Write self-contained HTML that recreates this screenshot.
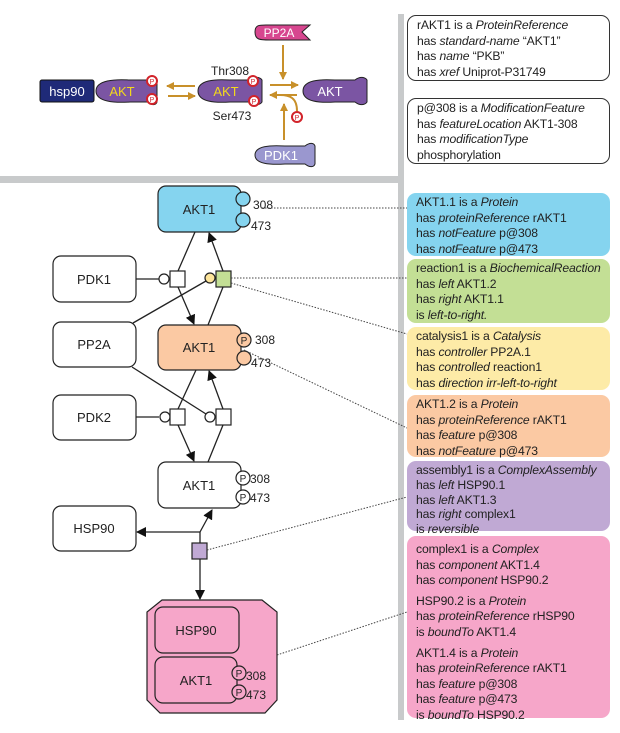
<!DOCTYPE html>
<html><head><meta charset="utf-8"><style>
body{margin:0;background:#fff;width:620px;height:733px;overflow:hidden;position:relative;font-family:"Liberation Sans",sans-serif}
.b{position:absolute;left:407px;width:203px;border-radius:9px;box-sizing:border-box;padding:2px 0 0 9px;font-size:12.2px;line-height:15.6px;color:#222;white-space:nowrap;letter-spacing:-0.15px}
i{font-style:italic}
</style></head><body>
<svg width="620" height="733" style="position:absolute;left:0;top:0" font-family="Liberation Sans, sans-serif">
<defs>
<marker id="a" markerWidth="10" markerHeight="10" refX="9" refY="5" orient="auto" markerUnits="userSpaceOnUse"><path d="M0,0 L10,5 L0,10z" fill="#111"/></marker>
<marker id="g" markerWidth="8" markerHeight="8" refX="7" refY="4" orient="auto" markerUnits="userSpaceOnUse"><path d="M0,0 L8,4 L0,8z" fill="#c8902a"/></marker>
</defs>
<rect x="0" y="176" width="400" height="7" fill="#c8cacb"/>
<rect x="398" y="14" width="6" height="706" fill="#c8cacb"/>
<!-- top illustration -->
<rect x="40" y="80" width="54" height="22" rx="2" fill="#1f2a78" stroke="#111"/>
<text x="67" y="96" fill="#fff" font-size="13" text-anchor="middle">hsp90</text>
<path d="M96,91 C96,80 115,79 130,80 L148,80 C152,76 156,77 157,80 L157,102 C156,105 152,106 148,102 L130,102 C115,103 96,102 96,91z" fill="#7b55a3" stroke="#222"/>
<text x="122" y="96" fill="#f3d81c" font-size="13" text-anchor="middle">AKT</text>
<path d="M198,91 C198,80 215,79 230,80 L250,80 C255,76 260,77 262,80 L262,102 C260,105 255,106 250,102 L230,102 C215,103 198,102 198,91z" fill="#7b55a3" stroke="#222"/>
<text x="226" y="96" fill="#f3d81c" font-size="13" text-anchor="middle">AKT</text>
<text x="230" y="75" font-size="12" fill="#222" text-anchor="middle">Thr308</text>
<text x="232" y="120" font-size="12" fill="#222" text-anchor="middle">Ser473</text>
<path d="M303,91 C303,80 320,79 335,80 L355,80 C360,76 365,77 367,80 L367,102 C365,105 360,106 355,102 L335,102 C320,103 303,102 303,91z" fill="#7b55a3" stroke="#222"/>
<text x="330" y="96" fill="#fff" font-size="13" text-anchor="middle">AKT</text>
<g fill="#fff" stroke="#d2232a" stroke-width="2"><circle cx="152" cy="81" r="5"/><circle cx="152" cy="99" r="5"/><circle cx="253" cy="81" r="5"/><circle cx="254" cy="101" r="5"/><circle cx="297" cy="117" r="5"/></g>
<g font-size="7" fill="#d2232a" text-anchor="middle"><text x="152" y="84">P</text><text x="152" y="102">P</text><text x="253" y="84">P</text><text x="254" y="104">P</text><text x="297" y="120">P</text></g>
<path d="M255,32 C255,24 260,25 270,25 L310,25 L302,32 L310,40 L270,40 C260,40 255,40 255,32z" fill="#d7468f" stroke="#222"/>
<text x="279" y="37" fill="#fff" font-size="12" text-anchor="middle">PP2A</text>
<path d="M255,155 C255,146 270,145 285,146 L305,146 C310,142 314,143 315,146 L315,164 C314,167 310,168 305,164 L285,164 C270,165 255,164 255,155z" fill="#9a97cf" stroke="#222"/>
<text x="281" y="160" fill="#fff" font-size="13" text-anchor="middle">PDK1</text>
<g stroke="#c8902a" stroke-width="2" fill="none">
<line x1="195" y1="86" x2="167" y2="86" marker-end="url(#g)"/>
<line x1="168" y1="96" x2="195" y2="96" marker-end="url(#g)"/>
<line x1="270" y1="85" x2="298" y2="85" marker-end="url(#g)"/>
<line x1="297" y1="95" x2="270" y2="95" marker-end="url(#g)"/>
<line x1="283" y1="45" x2="283" y2="79" marker-end="url(#g)"/>
<line x1="284" y1="140" x2="284" y2="104" marker-end="url(#g)"/>
<path d="M297,111 C297,98 290,95 280,95"/>
</g>
<!-- SBGN diagram -->
<g stroke="#222" stroke-width="1.3" fill="none">
<line x1="195" y1="232" x2="178" y2="271"/>
<line x1="178" y1="287" x2="194" y2="324" marker-end="url(#a)"/>
<line x1="208" y1="325" x2="223" y2="287"/>
<line x1="223" y1="271" x2="209" y2="233" marker-end="url(#a)"/>
<line x1="136" y1="279" x2="159" y2="279"/>
<line x1="133" y1="323" x2="206" y2="281"/>
<line x1="196" y1="370" x2="178" y2="409"/>
<line x1="178" y1="425" x2="194" y2="461" marker-end="url(#a)"/>
<line x1="208" y1="462" x2="223" y2="425"/>
<line x1="223" y1="409" x2="209" y2="371" marker-end="url(#a)"/>
<line x1="136" y1="417" x2="159" y2="417"/>
<line x1="132" y1="367" x2="206" y2="414"/>
<line x1="200" y1="543" x2="200" y2="532"/>
<line x1="200" y1="532" x2="137" y2="532" marker-end="url(#a)"/>
<line x1="200" y1="532" x2="212" y2="510" marker-end="url(#a)"/>
<line x1="200" y1="559" x2="200" y2="599" marker-end="url(#a)"/>
</g>
<g stroke="#222" stroke-width="1.2">
<rect x="158" y="186" width="83" height="46" rx="8" fill="#85d4ef"/>
<circle cx="243" cy="199" r="7" fill="#85d4ef"/><circle cx="243" cy="220" r="7" fill="#85d4ef"/>
<rect x="158" y="325" width="83" height="45" rx="8" fill="#fbc9a3"/>
<circle cx="244" cy="340" r="7" fill="#fbc9a3"/><circle cx="244" cy="358" r="7" fill="#fbc9a3"/>
<rect x="158" y="462" width="83" height="46" rx="8" fill="#fff"/>
<circle cx="243" cy="478" r="7" fill="#fff"/><circle cx="243" cy="497" r="7" fill="#fff"/>
<rect x="53" y="256" width="83" height="46" rx="8" fill="#fff"/>
<rect x="53" y="322" width="83" height="45" rx="8" fill="#fff"/>
<rect x="53" y="395" width="83" height="45" rx="8" fill="#fff"/>
<rect x="53" y="506" width="83" height="45" rx="8" fill="#fff"/>
<circle cx="164" cy="279" r="5" fill="#fff"/><rect x="170" y="271" width="15" height="16" fill="#fff"/>
<circle cx="210" cy="278" r="5" fill="#fce49a"/><rect x="216" y="271" width="15" height="16" fill="#c3df95"/>
<circle cx="165" cy="417" r="5" fill="#fff"/><rect x="170" y="409" width="15" height="16" fill="#fff"/>
<circle cx="210" cy="417" r="5" fill="#fff"/><rect x="216" y="409" width="15" height="16" fill="#fff"/>
<rect x="192" y="543" width="15" height="16" fill="#c0a9d4"/>
<path d="M162,600 L262,600 L277,612 L277,700 L265,713 L160,713 L147,700 L147,612z" fill="#f6a6c9"/>
<rect x="155" y="607" width="84" height="46" rx="8" fill="#f6a6c9"/>
<rect x="155" y="657" width="82" height="46" rx="8" fill="#f6a6c9"/>
<circle cx="239" cy="673" r="7" fill="#f6a6c9"/><circle cx="239" cy="692" r="7" fill="#f6a6c9"/>
</g>
<g font-size="13" fill="#222" text-anchor="middle">
<text x="199" y="214">AKT1</text><text x="199" y="352">AKT1</text><text x="199" y="490">AKT1</text>
<text x="94" y="284">PDK1</text><text x="94" y="349">PP2A</text><text x="94" y="422">PDK2</text><text x="94" y="533">HSP90</text>
<text x="196" y="635">HSP90</text><text x="196" y="685">AKT1</text>
</g>
<g font-size="12" fill="#222">
<text x="253" y="209">308</text><text x="251" y="230">473</text>
<text x="255" y="344">308</text><text x="251" y="367">473</text>
<text x="250" y="483">308</text><text x="250" y="502">473</text>
<text x="246" y="680">308</text><text x="246" y="699">473</text>
</g>
<g font-size="10" fill="#222" text-anchor="middle">
<text x="244" y="344">P</text><text x="243" y="482">P</text><text x="243" y="501">P</text><text x="239" y="677">P</text><text x="239" y="696">P</text>
</g>
<g stroke="#444" stroke-width="1" stroke-dasharray="1.5,1.5" fill="none">
<line x1="262" y1="208" x2="407" y2="208"/>
<line x1="231" y1="278" x2="407" y2="278"/>
<line x1="231" y1="283" x2="407" y2="334"/>
<line x1="244" y1="350" x2="407" y2="428"/>
<line x1="207" y1="550" x2="407" y2="497"/>
<line x1="277" y1="655" x2="407" y2="612"/>
</g>
</svg>
<div class="b" style="top:15px;height:66px;border:1.3px solid #333;background:#fff">rAKT1 is a <i>ProteinReference</i><br>has <i>standard-name</i> “AKT1”<br>has <i>name</i> “PKB”<br>has <i>xref</i> Uniprot-P31749</div>
<div class="b" style="top:98px;height:66px;border:1.3px solid #333;background:#fff">p@308 is a <i>ModificationFeature</i><br>has <i>featureLocation</i> AKT1-308<br>has <i>modificationType</i><br>phosphorylation</div>
<div class="b" style="top:193px;height:63px;background:#85d4ef">AKT1.1 is a <i>Protein</i><br>has <i>proteinReference</i> rAKT1<br>has <i>notFeature</i> p@308<br>has <i>notFeature</i> p@473</div>
<div class="b" style="top:259px;height:64px;background:#c3df95">reaction1 is a <i>BiochemicalReaction</i><br>has <i>left</i> AKT1.2<br>has <i>right</i> AKT1.1<br>is <i>left-to-right.</i></div>
<div class="b" style="top:327px;height:63px;background:#fdeba7">catalysis1 is a <i>Catalysis</i><br>has <i>controller</i> PP2A.1<br>has <i>controlled</i> reaction1<br>has <i>direction irr-left-to-right</i></div>
<div class="b" style="top:395px;height:62px;background:#fbc9a3">AKT1.2 is a <i>Protein</i><br>has <i>proteinReference</i> rAKT1<br>has <i>feature</i> p@308<br>has <i>notFeature</i> p@473</div>
<div class="b" style="top:461px;height:70px;background:#c0a9d4;line-height:14.8px">assembly1 is a <i>ComplexAssembly</i><br>has <i>left</i> HSP90.1<br>has <i>left</i> AKT1.3<br>has <i>right</i> complex1<br>is <i>reversible</i></div>
<div class="b" style="top:536px;height:182px;background:#f6a6c9;padding-top:6px">complex1 is a <i>Complex</i><br>has <i>component</i> AKT1.4<br>has <i>component</i> HSP90.2<div style="height:5px"></div>HSP90.2 is a <i>Protein</i><br>has <i>proteinReference</i> rHSP90<br>is <i>boundTo</i> AKT1.4<div style="height:5px"></div>AKT1.4 is a <i>Protein</i><br>has <i>proteinReference</i> rAKT1<br>has <i>feature</i> p@308<br>has <i>feature</i> p@473<br>is <i>boundTo</i> HSP90.2</div>
</body></html>
